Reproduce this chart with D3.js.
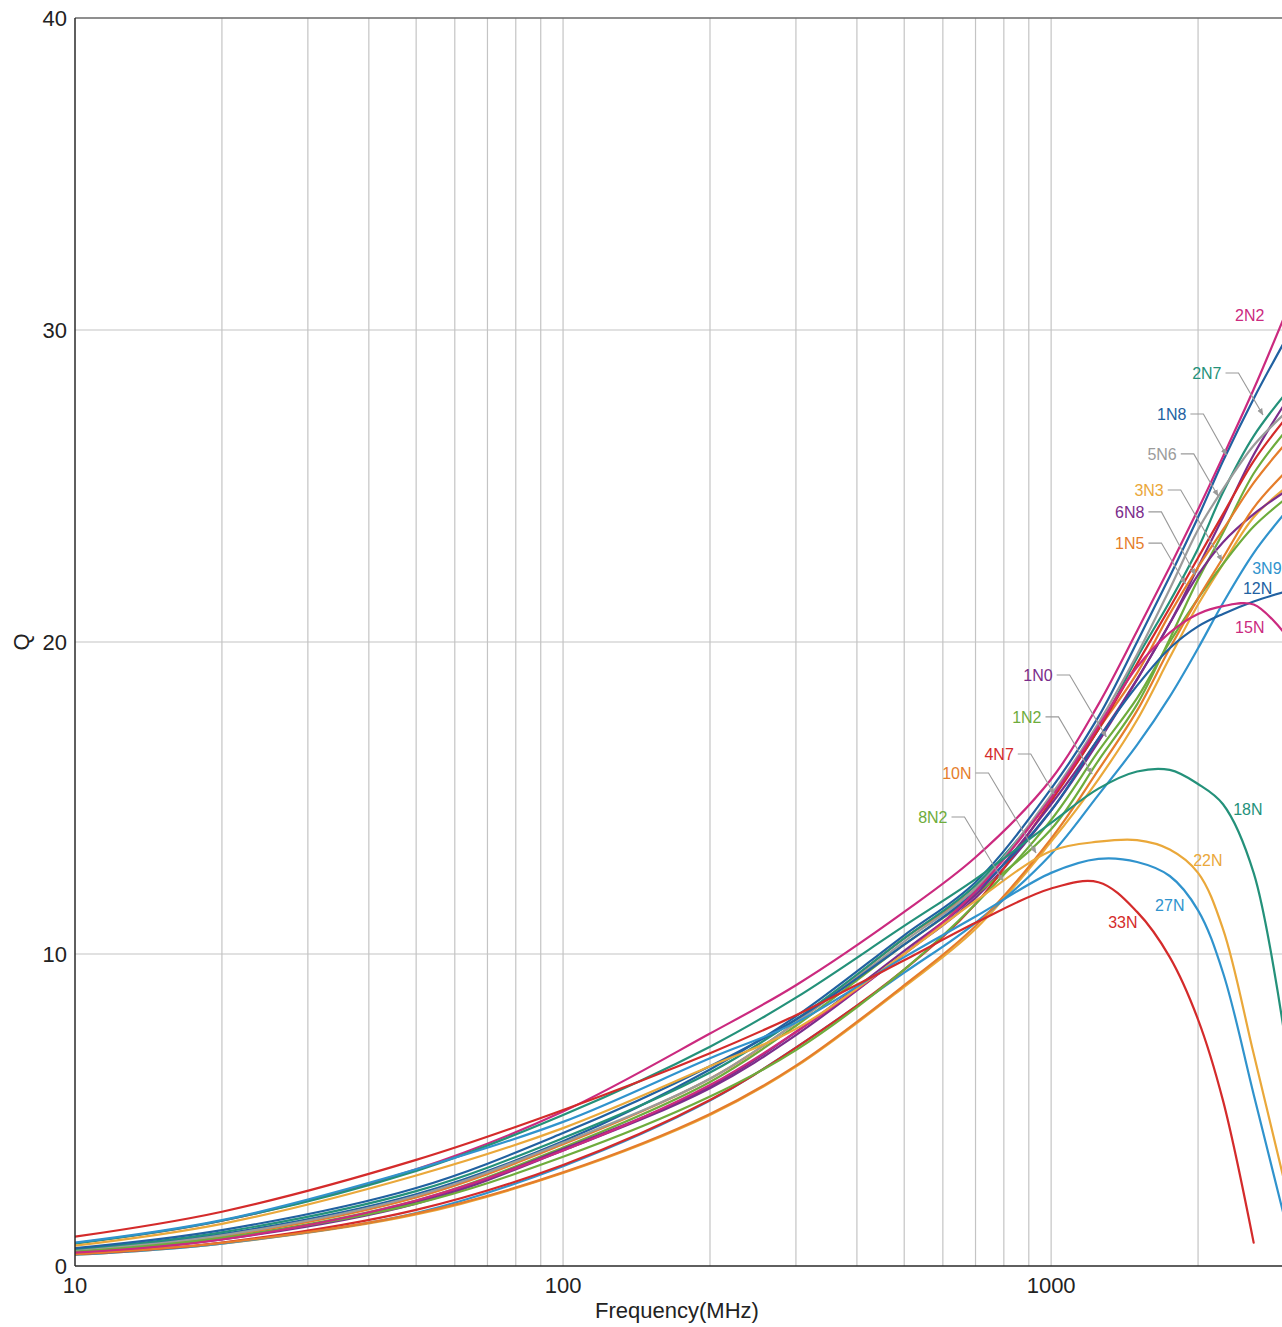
<!DOCTYPE html>
<html>
<head>
<meta charset="utf-8">
<script src="https://cdn.jsdelivr.net/npm/d3@7"></script>
<style>
  html, body { margin: 0; padding: 0; background: #fff; }
  svg { display: block; font-family: "Liberation Sans", Arial, Helvetica, sans-serif; }
  .grid line { stroke: #c4c4c4; stroke-width: 1.2; }
  .tick-label { fill: #222; font-size: 22px; }
  .series { fill: none; stroke-width: 2.2; stroke-linejoin: round; stroke-linecap: round; }
  .label { font-size: 16px; }
  .leader { fill: none; stroke: #9a9a9a; stroke-width: 1.1; }
</style>
</head>
<body>
<svg id="chart"></svg>
<script>
// Q vs frequency for the 19 inductance values.
const FREQ = [10, 20, 50, 100, 200, 300, 500, 700, 1000, 1250, 1500, 1750, 2000, 2250, 2600, 3000];

const q1N0 = [0.42, 0.85, 2.00, 3.70, 5.70, 7.40, 10.0, 11.8, 14.6, 16.8, 18.8, 20.6, 22.4, 24.0, 26.0, 27.6];
const q1N2 = [0.45, 0.90, 2.10, 3.80, 5.90, 7.70, 10.3, 11.9, 14.0, 16.2, 18.0, 20.1, 22.0, 23.5, 25.4, 26.7];
const q1N5 = [0.47, 0.95, 2.20, 3.90, 6.00, 7.80, 10.5, 12.1, 15.0, 17.2, 19.0, 20.9, 22.4, 23.6, 25.1, 26.3];
const q1N8 = [0.50, 1.02, 2.30, 4.00, 6.30, 8.00, 10.6, 12.3, 15.3, 17.6, 20.0, 22.1, 24.0, 25.8, 27.8, 29.6];
const q2N2 = [0.73, 1.45, 3.10, 4.95, 7.45, 9.00, 11.35, 13.1, 15.6, 18.0, 20.35, 22.4, 24.25, 25.95, 28.1, 30.4];
const q2N7 = [0.53, 1.08, 2.40, 4.10, 6.20, 7.90, 10.5, 12.2, 15.0, 17.2, 19.5, 21.3, 23.0, 24.8, 26.6, 27.9];
const q3N3 = [0.36, 0.72, 1.65, 2.98, 4.84, 6.39, 8.95, 10.8, 13.6, 15.6, 17.5, 19.5, 21.2, 22.5, 24.0, 24.9];
const q3N9 = [0.36, 0.72, 1.70, 3.20, 5.30, 7.00, 9.40, 11.0, 13.2, 15.1, 16.7, 18.25, 19.8, 21.25, 22.85, 24.1];
const q4N7 = [0.38, 0.75, 1.80, 3.24, 5.32, 7.00, 9.50, 11.6, 14.9, 17.2, 19.3, 21.1, 22.7, 24.1, 25.8, 27.1];
const q5N6 = [0.48, 0.98, 2.25, 3.95, 6.00, 7.80, 10.4, 12.1, 15.1, 17.4, 19.6, 21.7, 23.6, 24.9, 26.3, 27.3];
const q6N8 = [0.44, 0.88, 2.05, 3.75, 5.75, 7.50, 10.1, 11.9, 14.8, 16.9, 18.8, 20.6, 22.15, 23.2, 24.1, 24.8];
const q8N2 = [0.45, 0.90, 2.00, 3.50, 5.43, 6.92, 9.50, 11.6, 14.3, 16.5, 18.2, 20.0, 21.4, 22.5, 23.7, 24.55];
const q10N = [0.38, 0.74, 1.68, 3.00, 4.87, 6.42, 9.00, 10.9, 13.7, 15.9, 17.8, 19.8, 21.4, 22.7, 24.3, 25.4];
const q12N = [0.57, 1.15, 2.50, 4.26, 6.40, 7.90, 10.3, 12.0, 14.6, 16.9, 18.6, 19.8, 20.5, 20.9, 21.3, 21.6];
const q15N = [0.43, 0.85, 2.10, 3.70, 5.80, 7.50, 10.0, 12.0, 15.0, 17.3, 19.2, 20.3, 20.9, 21.15, 21.2, 20.3];
const q18N = [0.72, 1.45, 3.05, 4.84, 7.03, 8.60, 10.9, 12.4, 14.2, 15.3, 15.85, 15.9, 15.45, 14.8, 12.6, 7.5];
const q22N = [0.65, 1.35, 2.90, 4.42, 6.40, 7.60, 10.0, 11.7, 13.3, 13.6, 13.65, 13.35, 12.6, 10.8, 6.8, 2.75];
const q27N = [0.75, 1.47, 3.10, 4.62, 6.66, 7.80, 9.90, 11.2, 12.6, 13.05, 12.95, 12.5, 11.4, 9.4, 5.5, 1.6];
const q33N = [0.94, 1.74, 3.40, 5.00, 6.82, 8.04, 9.80, 11.0, 12.1, 12.3, 11.35, 9.9, 7.9, 5.3, 0.75, null];

const NAMES = ['1N0', '1N2', '1N5', '1N8', '2N2', '2N7', '3N3', '3N9', '4N7', '5N6',
               '6N8', '8N2', '10N', '12N', '15N', '18N', '22N', '27N', '33N'];
const VALUES = [q1N0, q1N2, q1N5, q1N8, q2N2, q2N7, q3N3, q3N9, q4N7, q5N6,
                q6N8, q8N2, q10N, q12N, q15N, q18N, q22N, q27N, q33N];

const X_TICKS = [10, 100, 1000];
const Y_TICKS = [0, 10, 20, 30, 40];

// Colour per series (the palette repeats across the inductance range).
const COLORS = {
  '1N0': '#7b2d8b', '1N2': '#6eac3c', '1N5': '#e57d2b', '1N8': '#2161a1',
  '2N2': '#cb2a7f', '2N7': '#24917a', '3N3': '#eaa83a', '3N9': '#3093cd',
  '4N7': '#d42b2b', '5N6': '#9b9b9b', '6N8': '#7b2d8b', '8N2': '#6eac3c',
  '10N': '#e57d2b', '12N': '#2161a1', '15N': '#cb2a7f', '18N': '#24917a',
  '22N': '#eaa83a', '27N': '#3093cd', '33N': '#d42b2b',
};

// Label placements in data units: text at [f, Q]; optional leader tip at [f, Q].
const LABELS = [
  { name: '2N2', at: [2382, 30.48] },
  { name: '2N7', at: [1945, 28.62], tip: [2716, 27.28] },
  { name: '1N8', at: [1648, 27.31], tip: [2286, 25.99] },
  { name: '5N6', at: [1575, 26.03], tip: [2198, 24.68] },
  { name: '3N3', at: [1481, 24.87], tip: [2240, 22.60] },
  { name: '6N8', at: [1352, 24.17], tip: [1974, 22.15] },
  { name: '1N5', at: [1352, 23.17], tip: [1884, 21.86] },
  { name: '3N9', at: [2582, 22.37] },
  { name: '12N', at: [2472, 21.73] },
  { name: '15N', at: [2382, 20.48] },
  { name: '1N0', at: [877, 18.94], tip: [1297, 16.96] },
  { name: '1N2', at: [832, 17.60], tip: [1213, 15.77] },
  { name: '4N7', at: [730, 16.41], tip: [1014, 15.13] },
  { name: '10N', at: [598, 15.80], tip: [931, 13.24] },
  { name: '8N2', at: [534, 14.39], tip: [797, 12.34] },
  { name: '18N', at: [2360, 14.65] },
  { name: '22N', at: [1955, 13.01] },
  { name: '27N', at: [1633, 11.57] },
  { name: '33N', at: [1309, 11.03] },
];

const WIDTH = 1282;
const HEIGHT = 1327;
const PLOT = { left: 75, right: 1284, top: 18, bottom: 1266 };

const svg = d3.select('#chart').attr('width', WIDTH).attr('height', HEIGHT);

const x = d3.scaleLog().domain([10, 3000]).range([PLOT.left, PLOT.right]);
const y = d3.scaleLinear().domain([0, 40]).range([PLOT.bottom, PLOT.top]);

const defs = svg.append('defs');
defs.append('clipPath').attr('id', 'plot-clip')
  .append('rect')
  .attr('x', PLOT.left).attr('y', PLOT.top)
  .attr('width', PLOT.right - PLOT.left).attr('height', PLOT.bottom - PLOT.top);

defs.append('marker')
  .attr('id', 'arrow')
  .attr('viewBox', '0 0 10 10')
  .attr('refX', 9).attr('refY', 5)
  .attr('markerWidth', 7).attr('markerHeight', 7)
  .attr('markerUnits', 'userSpaceOnUse')
  .attr('orient', 'auto')
  .append('path').attr('d', 'M0,1 L10,5 L0,9 Z').attr('fill', '#9a9a9a');

// Grid: every log decade subdivision and each 10 on Q.
const grid = svg.append('g').attr('class', 'grid');
grid.selectAll('line.v')
  .data(x.ticks().filter((d) => d > 10))
  .join('line').attr('class', 'v')
  .attr('x1', (d) => x(d)).attr('x2', (d) => x(d))
  .attr('y1', PLOT.top).attr('y2', PLOT.bottom);
grid.selectAll('line.h')
  .data(Y_TICKS.filter((d) => d > 0 && d < 40))
  .join('line').attr('class', 'h')
  .attr('x1', PLOT.left).attr('x2', PLOT.right)
  .attr('y1', (d) => y(d)).attr('y2', (d) => y(d));

// Grey top edge of the frame.
svg.append('line')
  .attr('x1', PLOT.left).attr('x2', PLOT.right)
  .attr('y1', PLOT.top).attr('y2', PLOT.top)
  .attr('stroke', '#6a6a6a').attr('stroke-width', 1.4);

// Series curves (centripetal Catmull-Rom keeps them smooth through the points).
const line = d3.line()
  .defined((d) => d[1] != null)
  .x((d) => x(d[0]))
  .y((d) => y(d[1]))
  .curve(d3.curveCatmullRom.alpha(0.5));

svg.append('g')
  .attr('clip-path', 'url(#plot-clip)')
  .selectAll('path')
  .data(NAMES.map((name, i) => ({ name, pts: FREQ.map((f, j) => [f, VALUES[i][j]]) })))
  .join('path')
  .attr('class', 'series')
  .attr('stroke', (d) => COLORS[d.name])
  .attr('d', (d) => line(d.pts));

// Dark left and bottom axes.
svg.append('line')
  .attr('x1', PLOT.left).attr('x2', PLOT.left)
  .attr('y1', PLOT.top).attr('y2', PLOT.bottom)
  .attr('stroke', '#2a2a2a').attr('stroke-width', 1.5);
svg.append('line')
  .attr('x1', PLOT.left).attr('x2', PLOT.right)
  .attr('y1', PLOT.bottom).attr('y2', PLOT.bottom)
  .attr('stroke', '#2a2a2a').attr('stroke-width', 1.5);

// Tick labels.
svg.append('g').selectAll('text')
  .data(X_TICKS)
  .join('text')
  .attr('class', 'tick-label')
  .attr('x', (d) => x(d))
  .attr('y', PLOT.bottom + 27)
  .attr('text-anchor', 'middle')
  .text((d) => d);

svg.append('g').selectAll('text')
  .data(Y_TICKS)
  .join('text')
  .attr('class', 'tick-label')
  .attr('x', PLOT.left - 8)
  .attr('y', (d) => y(d))
  .attr('dy', '0.36em')
  .attr('text-anchor', 'end')
  .text((d) => d);

svg.append('text')
  .attr('class', 'tick-label')
  .attr('x', 677).attr('y', 1318)
  .attr('text-anchor', 'middle')
  .text('Frequency(MHz)');

svg.append('text')
  .attr('class', 'tick-label')
  .attr('transform', `translate(21, ${y(20)}) rotate(-90)`)
  .attr('dy', '0.36em')
  .attr('text-anchor', 'middle')
  .text('Q');

// Series labels with optional leader lines.
const labelGroup = svg.append('g');
LABELS.forEach((l) => {
  const tx = x(l.at[0]);
  const ty = y(l.at[1]);
  const t = labelGroup.append('text')
    .attr('class', 'label')
    .attr('x', tx).attr('y', ty)
    .attr('dy', '0.36em')
    .attr('fill', COLORS[l.name])
    .text(l.name);
  if (l.tip) {
    const end = tx + t.node().getComputedTextLength();
    labelGroup.append('path')
      .attr('class', 'leader')
      .attr('marker-end', 'url(#arrow)')
      .attr('d', `M${end + 4},${ty} H${end + 17} L${x(l.tip[0])},${y(l.tip[1])}`);
  }
});
</script>
</body>
</html>
